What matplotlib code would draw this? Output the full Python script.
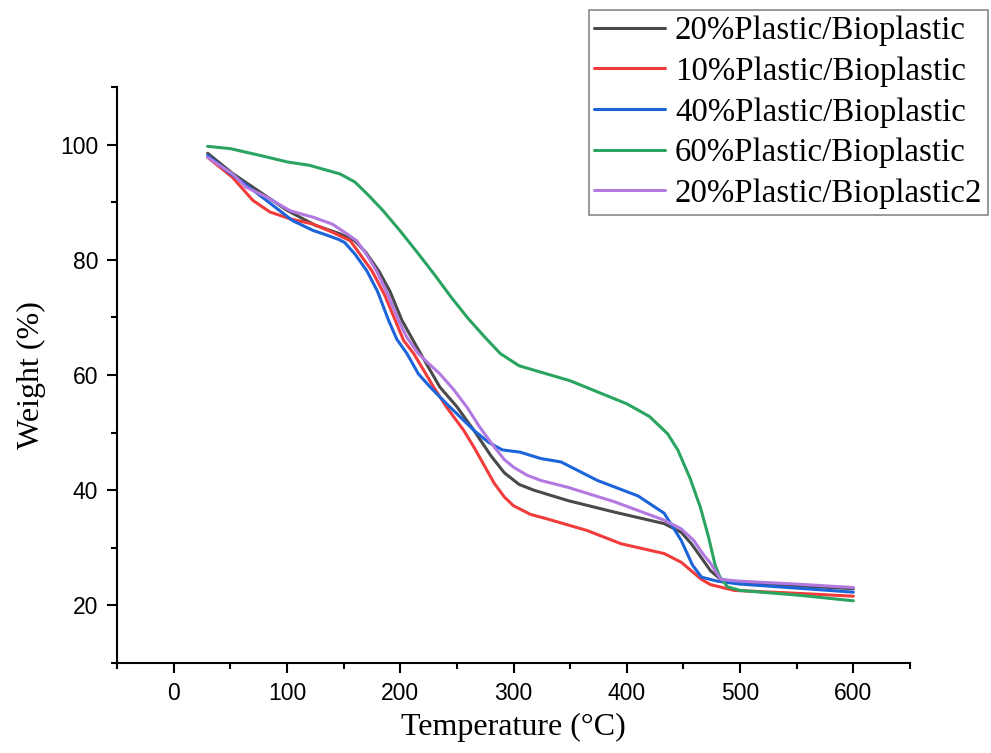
import matplotlib
matplotlib.use("Agg")
import matplotlib.pyplot as plt
from matplotlib.ticker import MultipleLocator

# ---- data ----
labels = ["20%Plastic/Bioplastic", "10%Plastic/Bioplastic", "40%Plastic/Bioplastic",
          "60%Plastic/Bioplastic", "20%Plastic/Bioplastic2"]
colors = ["#4a4a4a", "#f23b3b", "#1c64da", "#2aa460", "#b279e0"]

x_20 = [30, 52, 79, 100, 125, 147, 160, 170, 181, 191, 201.5, 210, 218, 235, 250, 265,
        280, 292, 305, 318, 348, 389, 433, 448, 457, 465, 474, 483, 500, 550, 600]
y_20 = [98.5, 95.0, 91.4, 88.6, 86.0, 84.5, 83.3, 81.2, 78.1, 74.5, 69.5, 66.5, 63.7,
        57.9, 54.5, 50.4, 46.0, 43.0, 41.0, 40.0, 38.2, 36.2, 34.2, 32.7, 30.7, 28.5, 26.0,
        24.5, 24.0, 23.4, 22.9]

x_10 = [30, 52, 70, 85, 103, 123, 140, 156, 175, 186, 195.6, 203, 212, 229.5, 241, 256,
        265, 275, 283, 292, 300, 315, 330, 365, 395, 433, 448, 457, 466, 474, 495, 550, 600]
y_10 = [97.8, 94.3, 90.3, 88.3, 87.1, 86.2, 84.8, 83.3, 78.1, 74.0, 69.5, 66.0, 63.7,
        57.9, 54.4, 50.4, 47.5, 44.0, 41.2, 38.8, 37.3, 35.8, 35.0, 33.0, 30.7, 29.0, 27.5,
        26.0, 24.5, 23.6, 22.6, 22.1, 21.6]

x_40 = [30, 50, 64, 80, 105, 123, 135, 146, 151, 160, 170.5, 180, 189.7, 197, 206, 216,
        226.5, 241, 265, 278, 290, 306, 324, 342, 374, 410, 433, 448, 458, 466, 480, 500,
        550, 600]
y_40 = [98.1, 95.0, 93.0, 90.6, 86.8, 85.1, 84.3, 83.5, 83.0, 81.0, 78.1, 74.5, 69.5,
        66.2, 63.7, 60.2, 57.9, 55.0, 50.4, 48.3, 47.0, 46.6, 45.5, 44.9, 41.7, 39.0, 36.0,
        31.3, 27.0, 24.9, 24.2, 23.7, 23.0, 22.3]

x_60 = [30, 50, 79, 100, 120, 147, 160, 172, 185, 200, 215, 230, 245, 260, 275, 288.5,
        305, 324, 350, 375, 400, 420, 436, 445, 456, 465, 472, 478, 482, 489, 500, 550, 600]
y_60 = [99.7, 99.3, 98.0, 97.0, 96.4, 94.9, 93.5, 91.2, 88.5, 85.0, 81.3, 77.5, 73.5,
        69.8, 66.5, 63.7, 61.6, 60.5, 59.0, 57.0, 55.0, 52.8, 49.8, 47.0, 42.0, 37.0, 32.0,
        27.0, 25.0, 23.2, 22.6, 21.8, 20.8]

x_20b = [30, 52, 64, 82, 103, 123, 140, 153, 161.6, 170, 179, 189, 198.5, 206, 216, 225,
         235, 247, 259, 270, 283, 292, 300, 312, 324, 348, 389, 433, 448, 459, 467, 474,
         483, 500, 550, 600]
y_20b = [97.8, 94.9, 92.6, 90.9, 88.5, 87.4, 86.2, 84.5, 83.3, 81.0, 78.1, 74.0, 69.5,
         66.5, 63.7, 62.0, 60.2, 57.5, 54.4, 51.0, 47.5, 45.3, 44.0, 42.6, 41.7, 40.5, 38.0,
         34.8, 33.3, 31.3, 29.0, 27.3, 24.5, 24.2, 23.7, 23.1]

series_x = [x_20, x_10, x_40, x_60, x_20b]
series_y = [y_20, y_10, y_40, y_60, y_20b]

x_ticks = [0, 100, 200, 300, 400, 500, 600]
y_ticks = [20, 40, 60, 80, 100]

# ---- figure ----
W, H = 991, 753
fig = plt.figure(figsize=(W / 100, H / 100), dpi=100)
ax = fig.add_axes([117 / W, 1 - 663 / H, (910 - 117) / W, (663 - 87) / H])

for xs, ys, c, lab in zip(series_x, series_y, colors, labels):
    ax.plot(xs, ys, color=c, lw=2.2, label=lab, solid_capstyle="round",
            solid_joinstyle="round")

ax.set_xlim(-50, 650)
ax.set_ylim(10, 110)
ax.set_xticks(x_ticks)
ax.set_yticks(y_ticks)
ax.xaxis.set_minor_locator(MultipleLocator(50))
ax.yaxis.set_minor_locator(MultipleLocator(10))

for s in ["top", "right"]:
    ax.spines[s].set_visible(False)
for s in ["left", "bottom"]:
    ax.spines[s].set_linewidth(1.5)

ax.tick_params(which="major", direction="out", length=7.5, width=1.5, pad=6,
               labelsize=16.5)
ax.tick_params(which="minor", direction="out", length=4, width=1.5)
for lbl in ax.get_xticklabels() + ax.get_yticklabels():
    lbl.set_fontfamily("Liberation Sans")

serif = "Liberation Serif"
ax.set_xlabel("Temperature (°C)", fontfamily=serif, fontsize=23, labelpad=6)
ax.set_ylabel("Weight (%)", fontfamily=serif, fontsize=23, labelpad=10)

leg = ax.legend(loc="upper right", bbox_to_anchor=(988 / W, 1 - 10 / H),
                bbox_transform=fig.transFigure, borderaxespad=0,
                prop={"family": serif, "size": 23.7}, fancybox=False,
                edgecolor="#888888", framealpha=1, handlelength=2.15,
                handletextpad=0.3, labelspacing=0.31, borderpad=0.17)
leg.get_frame().set_linewidth(1.2)

fig.savefig("out.png", dpi=100)
